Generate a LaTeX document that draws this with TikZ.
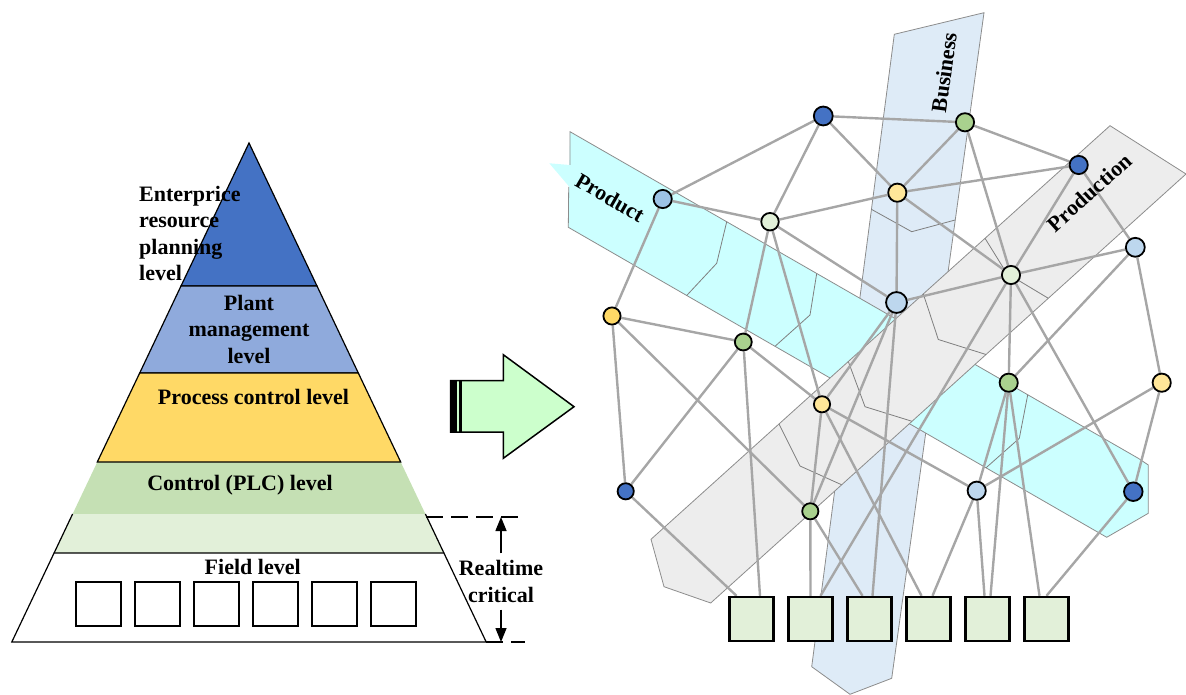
\documentclass[tikz,border=0pt]{standalone}
\usepackage{fontspec}
\setmainfont{Liberation Serif}
\usetikzlibrary{arrows.meta,calc}
\pgfdeclarelayer{bands}
\pgfdeclarelayer{edges}
\pgfsetlayers{bands,edges,main}
\definecolor{cdblue}{HTML}{4472C4}
\definecolor{cplant}{HTML}{8FAADC}
\definecolor{cyel}{HTML}{FFD966}
\definecolor{cplc}{HTML}{C5E0B4}
\definecolor{cvlg}{HTML}{E2F0D9}
\definecolor{clb1}{HTML}{9DC3E6}
\definecolor{clb2}{HTML}{BDD7EE}
\definecolor{cly}{HTML}{FFE699}
\definecolor{cgr}{HTML}{A9D18E}
\definecolor{cedge}{HTML}{A6A6A6}
\definecolor{carrow}{HTML}{CCFFCC}
\definecolor{cprod}{HTML}{CCFFFF}
\definecolor{cbus}{HTML}{DEEBF7}
\definecolor{cpron}{HTML}{EDEDED}
\definecolor{cbandline}{HTML}{8C8C8C}
\definecolor{cfold}{HTML}{7F7F7F}
\tikzset{
  pyrtext/.style={font=\fontsize{22}{26.5}\selectfont\bfseries, inner sep=0pt},
  bandlabel/.style={font=\fontsize{22}{26}\selectfont\bfseries, inner sep=0pt},
  pyrline/.style={draw=black, line width=1.2pt},
  bandedge/.style={draw=cbandline, line width=0.8pt},
  foldline/.style={draw=cfold, line width=0.8pt},
  edge/.style={draw=cedge, line width=2.4pt},
  nd/.style={circle, draw=black, line width=1.8pt, inner sep=0pt, minimum size=18.2pt},
  netbox/.style={rectangle, draw=black, line width=2.4pt, fill=cvlg, minimum width=44pt, minimum height=44pt, inner sep=0pt},
  pyrbox/.style={rectangle, draw=black, line width=2pt, fill=white, minimum width=45pt, minimum height=44pt, inner sep=0pt},
  dashline/.style={draw=black, line width=1.8pt, dash pattern=on 17pt off 8pt},
  rtarrow/.style={draw=black, line width=1.5pt, -{Triangle[length=14pt,width=11pt]}}
}
\begin{document}
\begin{tikzpicture}[x=1pt,y=-1pt]
\useasboundingbox (0,0) rectangle (1186,695);

% ---------------- Pyramid ----------------
\filldraw[fill=cdblue, pyrline] (249,143) -- (317,286) -- (181,286) -- cycle;
\filldraw[fill=cplant, pyrline] (181,286) -- (317,286) -- (358.3,373) -- (139.7,373) -- cycle;
\fill[cplc] (97.3,462) -- (400.7,462) -- (425.4,514) -- (72.6,514) -- cycle;
\fill[cvlg] (72.6,514) -- (425.4,514) -- (443.9,553) -- (54.1,553) -- cycle;
\draw[pyrline] (72.6,514) -- (54.1,553) (425.4,514) -- (443.9,553);
\filldraw[fill=cyel, pyrline] (139.7,373) -- (358.3,373) -- (400.7,462) -- (97.3,462) -- cycle;
\filldraw[fill=white, pyrline] (54.1,553) -- (443.9,553) -- (486.2,642) -- (11.8,642) -- cycle;

\node[pyrtext, align=left, anchor=west] (erp) at (139,233.5) {Enterprice\\resource\\planning\\level};
\node[pyrtext, align=center] (plant) at (249,329) {Plant\\management\\level};
\node[pyrtext, anchor=base] (proc) at (253.5,404) {Process control level};
\node[pyrtext, anchor=base] (plc) at (240,490) {Control (PLC) level};
\node[pyrtext, anchor=base] (field) at (252.7,574) {Field level};
\foreach \i/\x in {1/98,2/157,3/216,4/275,5/334,6/393}
  \node[pyrbox] (p\i) at (\x,604) {};

% realtime marker
\coordinate (dtA) at (426,517);
\coordinate (dtB) at (525,517);
\coordinate (dbA) at (486,642);
\coordinate (dbB) at (525,642);
\draw[dashline] (dtA) -- (dtB);
\draw[dashline] (dbA) -- (dbB);
\node[pyrtext, align=center, inner ysep=7pt] (rt) at (501,581.5) {Realtime\\critical};
\coordinate (rtTop) at (501,517);
\coordinate (rtBot) at (501,642);
\draw[rtarrow] (rt.north) -- (rtTop);
\draw[rtarrow] (rt.south) -- (rtBot);

% ---------------- Big arrow ----------------
\filldraw[fill=carrow, draw=black, line width=1.5pt, line join=miter]
  (450.7,380.7) -- (503.3,380.7) -- (503.3,354.7) -- (574,406.7) -- (503.3,458.3) -- (503.3,432) -- (450.7,432) -- cycle;
\fill[black] (450.7,380.7) rectangle (456.7,432);
\fill[black] (458.7,380.7) rectangle (462,432);

% ---------------- Bands ----------------
\begin{pgfonlayer}{bands}
  % Business
  \filldraw[fill=cbus, bandedge] (894.3,34.3) -- (984,12.7) -- (891.7,678.3) -- (850,694.3) -- (811.7,666.7) -- cycle;
  \draw[foldline] (871.4,209.3) -- (911.7,231.7) -- (955.2,220);
  % Product
  \fill[cprod] (570,131.7) -- (1138.3,458.3) -- (1148.3,465) -- (1148.3,513.3) -- (1106.7,537.3) -- (568.3,227.3) -- cycle;
  \fill[cprod] (570,165) -- (549.3,163.3) -- (569.5,187) -- cycle;
  \draw[bandedge] (570,165) -- (570,131.7) -- (1138.3,458.3) -- (1148.3,465) -- (1148.3,513.3) -- (1106.7,537.3) -- (568.3,227.3) -- (568.7,187);
  \draw[foldline] (726.7,221.8) -- (716.7,263.3) -- (686.7,295.5);
  \draw[foldline] (816.7,273.5) -- (810,315) -- (775,346.3);
  \draw[foldline] (1027.7,394.9) -- (1019.3,438.3) -- (986,467.8);
  % Production
  \filldraw[fill=cpron, bandedge] (1110,125.7) -- (1186,174) -- (710.7,603) -- (664,586.7) -- (651,539.3) -- cycle;
  \draw[foldline] (985,238.3) -- (1006.7,273.3) -- (1048.3,298.3);
  \draw[foldline] (923.3,293.9) -- (938.3,339.5) -- (986,354.5);
  \draw[foldline] (848.3,361.5) -- (865,406.7) -- (912,421.3);
  \draw[foldline] (779,424) -- (800,466) -- (841.7,484.8);
\end{pgfonlayer}

\node[bandlabel, rotate=-30] (lprod) at (610,197.5) {Product};
\node[bandlabel, rotate=82] (lbus) at (944,72.5) {Business};
\node[bandlabel, rotate=42] (lpron) at (1089.5,192.5) {Production};

% ---------------- Network nodes ----------------
\node[nd, fill=cdblue, minimum size=18.9pt] (n1) at (823.3,116) {};
\node[nd, fill=clb1, minimum size=18.2pt] (n2) at (662.7,199) {};
\node[nd, fill=cvlg, minimum size=17.5pt] (n3) at (770,221.7) {};
\node[nd, fill=cyel, minimum size=17.2pt] (n4) at (612,316) {};
\node[nd, fill=cgr, minimum size=16.9pt] (n5) at (743.3,342) {};
\node[nd, fill=cgr, minimum size=18.2pt] (n6) at (965,122.3) {};
\node[nd, fill=cly, minimum size=18.2pt] (n7) at (897.3,192.7) {};
\node[nd, fill=cdblue, minimum size=18.2pt] (n8) at (1078.7,165) {};
\node[nd, fill=clb2, minimum size=18.9pt] (n9) at (1135.3,247.3) {};
\node[nd, fill=cvlg, minimum size=18.2pt] (n10) at (1011,275) {};
\node[nd, fill=clb2, minimum size=20.9pt] (n11) at (896.5,302.5) {};
\node[nd, fill=cly, minimum size=16.2pt] (n12) at (822,404.3) {};
\node[nd, fill=cdblue, minimum size=16.2pt] (n13) at (625.7,491.3) {};
\node[nd, fill=cgr, minimum size=16.2pt] (n14) at (810.3,511.3) {};
\node[nd, fill=cgr, minimum size=18.2pt] (n15) at (1008.7,382.7) {};
\node[nd, fill=cly, minimum size=18.2pt] (n16) at (1161.7,382.7) {};
\node[nd, fill=clb2, minimum size=18.2pt] (n17) at (976.7,490.7) {};
\node[nd, fill=cdblue, minimum size=18.6pt] (n18) at (1133.3,491.7) {};

\foreach \i/\x in {1/751.5,2/810.5,3/869.5,4/928.5,5/987.5,6/1046.5}
  \node[netbox] (b\i) at (\x,619) {};

% ---------------- Edges ----------------
\begin{pgfonlayer}{edges}
  \draw[edge] (n1) -- (n2);  \draw[edge] (n1) -- (n3);
  \draw[edge] (n1) -- (n6);  \draw[edge] (n1) -- (n7);
  \draw[edge] (n2) -- (n3);  \draw[edge] (n2) -- (n4);
  \draw[edge] (n3) -- (n7);  \draw[edge] (n3) -- (n11);
  \draw[edge] (n3) -- (n5);  \draw[edge] (n3) -- (n12);
  \draw[edge] (n4) -- (n5);  \draw[edge] (n4) -- (n13);
  \draw[edge] (n4) -- (n14);
  \draw[edge] (n5) -- (n13); \draw[edge] (n5) -- (n12);
  \draw[edge] (n5) -- ([xshift=8.5pt]b1.north);
  \draw[edge] (n6) -- (n7);  \draw[edge] (n6) -- (n8);
  \draw[edge] (n6) -- (n10);
  \draw[edge] (n7) -- (n8);  \draw[edge] (n7) -- (n11);
  \draw[edge] (n7) -- (n10);
  \draw[edge] (n8) -- (n10); \draw[edge] (n8) -- (n9);
  \draw[edge] (n9) -- (n10); \draw[edge] (n9) -- (n15);
  \draw[edge] (n9) -- (n16);
  \draw[edge] (n10) -- (n11); \draw[edge] (n10) -- (n15);
  \draw[edge] (n10) -- (n18);
  \draw[edge] (n10) -- ([xshift=10pt]b2.north);
  \draw[edge] (n11) -- (n12); \draw[edge] (n11) -- (n14);
  \draw[edge] (n11) -- ([xshift=3pt]b3.north);
  \draw[edge] (n12) -- (n14); \draw[edge] (n12) -- (n17);
  \draw[edge] (n12) -- ([xshift=-7pt]b4.north);
  \draw[edge] (n13) -- ([xshift=-15pt]b1.north);
  \draw[edge] (n14) -- (b2.north);
  \draw[edge] (n14) -- ([xshift=-7pt]b3.north);
  \draw[edge] (n15) -- (n17);
  \draw[edge] (n15) -- ([xshift=3pt]b5.north);
  \draw[edge] (n15) -- ([xshift=-7pt]b6.north);
  \draw[edge] (n16) -- (n17); \draw[edge] (n16) -- (n18);
  \draw[edge] (n17) -- ([xshift=4pt]b4.north);
  \draw[edge] (n17) -- ([xshift=-3pt]b5.north);
  \draw[edge] (n18) -- (b6.north);
\end{pgfonlayer}
\end{tikzpicture}
\end{document}
